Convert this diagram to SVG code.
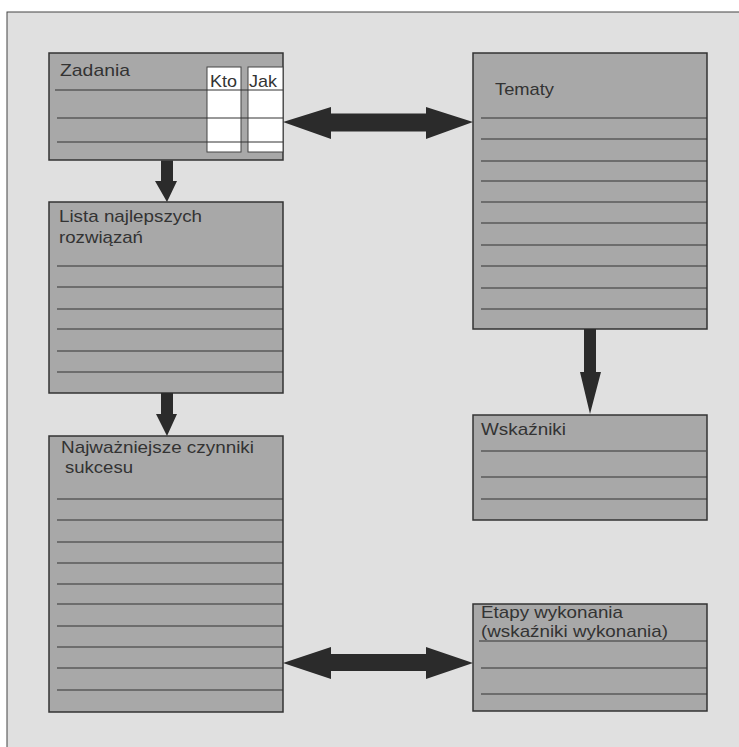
<svg xmlns="http://www.w3.org/2000/svg" width="739" height="747" viewBox="0 0 739 747">
<style>
.box{fill:#a8a8a8;stroke:#333;stroke-width:1.5}
.cell{fill:#fff;stroke:#444;stroke-width:1}
.ln{stroke:#333;stroke-width:1}
.t{font-family:"Liberation Sans",Arial,sans-serif;font-size:17px;fill:#333}
.arr{fill:#2b2b2b;stroke:none}
</style>
<rect x="0" y="0" width="739" height="747" fill="#fff"/>
<rect x="7" y="12" width="740" height="745" fill="#e0e0e0" stroke="#444" stroke-width="1"/>

<g id="zadania">
<rect class="box" x="49" y="53" width="234" height="107"/>
<rect class="cell" x="207" y="67" width="34" height="85"/>
<rect class="cell" x="248" y="67" width="35" height="85"/>
<line class="ln" x1="55" y1="90" x2="283" y2="90"/>
<line class="ln" x1="57" y1="118" x2="283" y2="118"/>
<line class="ln" x1="57" y1="142" x2="283" y2="142"/>
<text class="t" x="60" y="76" textLength="70" lengthAdjust="spacingAndGlyphs">Zadania</text>
<text class="t" x="210" y="87" textLength="27" lengthAdjust="spacingAndGlyphs">Kto</text>
<text class="t" x="249" y="87" textLength="28" lengthAdjust="spacingAndGlyphs">Jak</text>
</g>

<g id="tematy">
<rect class="box" x="473" y="53" width="234" height="276"/>
<g class="ln">
<line x1="481" y1="118" x2="707" y2="118"/>
<line x1="481" y1="139" x2="707" y2="139"/>
<line x1="481" y1="161" x2="707" y2="161"/>
<line x1="481" y1="181" x2="707" y2="181"/>
<line x1="481" y1="202" x2="707" y2="202"/>
<line x1="481" y1="223" x2="707" y2="223"/>
<line x1="481" y1="245" x2="707" y2="245"/>
<line x1="481" y1="266" x2="707" y2="266"/>
<line x1="481" y1="288" x2="707" y2="288"/>
<line x1="481" y1="309" x2="707" y2="309"/>
</g>
<text class="t" x="495" y="95" textLength="59" lengthAdjust="spacingAndGlyphs">Tematy</text>
</g>

<g id="lista">
<rect class="box" x="49" y="202" width="234" height="191"/>
<g class="ln">
<line x1="57" y1="266" x2="283" y2="266"/>
<line x1="57" y1="287" x2="283" y2="287"/>
<line x1="57" y1="309" x2="283" y2="309"/>
<line x1="57" y1="329" x2="283" y2="329"/>
<line x1="57" y1="351" x2="283" y2="351"/>
<line x1="57" y1="372" x2="283" y2="372"/>
</g>
<text class="t" x="59" y="222" textLength="143" lengthAdjust="spacingAndGlyphs">Lista najlepszych</text>
<text class="t" x="59" y="243" textLength="84" lengthAdjust="spacingAndGlyphs">rozwiązań</text>
</g>

<g id="najwazniejsze">
<rect class="box" x="49" y="436" width="234" height="276"/>
<g class="ln">
<line x1="57" y1="499" x2="283" y2="499"/>
<line x1="57" y1="520" x2="283" y2="520"/>
<line x1="57" y1="542" x2="283" y2="542"/>
<line x1="57" y1="563" x2="283" y2="563"/>
<line x1="57" y1="584" x2="283" y2="584"/>
<line x1="57" y1="604" x2="283" y2="604"/>
<line x1="57" y1="626" x2="283" y2="626"/>
<line x1="57" y1="647" x2="283" y2="647"/>
<line x1="57" y1="668" x2="283" y2="668"/>
<line x1="57" y1="690" x2="283" y2="690"/>
</g>
<text class="t" x="61" y="453" textLength="193" lengthAdjust="spacingAndGlyphs">Najważniejsze czynniki</text>
<text class="t" x="65" y="473" textLength="68" lengthAdjust="spacingAndGlyphs">sukcesu</text>
</g>

<g id="wskazniki">
<rect class="box" x="473" y="415" width="234" height="105"/>
<g class="ln">
<line x1="481" y1="451" x2="706" y2="451"/>
<line x1="481" y1="477" x2="707" y2="477"/>
<line x1="481" y1="499" x2="707" y2="499"/>
</g>
<text class="t" x="481" y="435" textLength="85" lengthAdjust="spacingAndGlyphs">Wskaźniki</text>
</g>

<g id="etapy">
<rect class="box" x="473" y="604" width="234" height="107"/>
<g class="ln">
<line x1="479" y1="641" x2="707" y2="641"/>
<line x1="481" y1="668" x2="707" y2="668"/>
<line x1="481" y1="694" x2="707" y2="694"/>
</g>
<text class="t" x="481" y="618" textLength="142" lengthAdjust="spacingAndGlyphs">Etapy wykonania</text>
<text class="t" x="481" y="637" textLength="187" lengthAdjust="spacingAndGlyphs">(wskaźniki wykonania)</text>
</g>

<g id="connectors">
<polygon class="arr" points="283,122 331,107 331,113.5 426,113.5 426,107 473,122 426,139 426,131.5 331,131.5 331,139"/>
<polygon class="arr" points="283,663 331,647 331,654 426,654 426,647 473,663 426,679 426,671 331,671 331,679"/>
<polygon class="arr" points="161,160.5 173,160.5 173,181 177,181 167,202 155,181 161,181"/>
<polygon class="arr" points="161,393 173,393 173,414 177,414 167,436 156,414 161,414"/>
<polygon class="arr" points="584,329 596,329 596,372 601,372 590,414 580,372 584,372"/>
</g>
</svg>
